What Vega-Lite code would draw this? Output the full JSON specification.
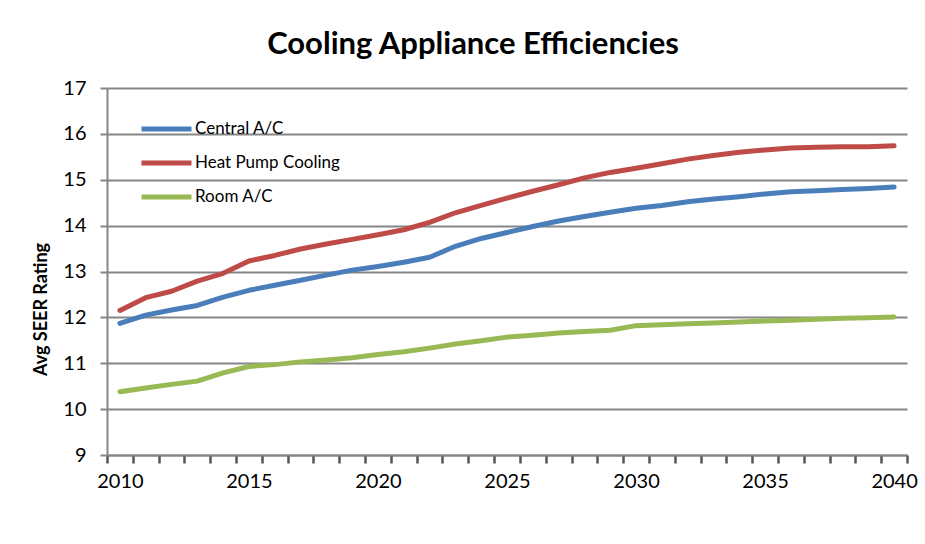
{
  "$schema": "https://vega.github.io/schema/vega-lite/v6.json",
  "autosize": {"type": "none"},
  "width": 800,
  "height": 367,
  "padding": {"left": 107, "top": 88, "right": 18, "bottom": 89},
  "background": "white",
  "title": {
    "text": "Cooling Appliance Efficiencies",
    "font": "Lato",
    "fontSize": 31,
    "fontWeight": "bold",
    "color": "#000000",
    "anchor": "middle",
    "dx": -34,
    "offset": 17
  },
  "data": {
    "values": [
      {"year": 2010, "series": "Central A/C", "seer": 11.87},
      {"year": 2011, "series": "Central A/C", "seer": 12.05},
      {"year": 2012, "series": "Central A/C", "seer": 12.16},
      {"year": 2013, "series": "Central A/C", "seer": 12.26},
      {"year": 2014, "series": "Central A/C", "seer": 12.44},
      {"year": 2015, "series": "Central A/C", "seer": 12.59},
      {"year": 2016, "series": "Central A/C", "seer": 12.70},
      {"year": 2017, "series": "Central A/C", "seer": 12.81},
      {"year": 2018, "series": "Central A/C", "seer": 12.92},
      {"year": 2019, "series": "Central A/C", "seer": 13.03},
      {"year": 2020, "series": "Central A/C", "seer": 13.11},
      {"year": 2021, "series": "Central A/C", "seer": 13.20},
      {"year": 2022, "series": "Central A/C", "seer": 13.31},
      {"year": 2023, "series": "Central A/C", "seer": 13.55},
      {"year": 2024, "series": "Central A/C", "seer": 13.72},
      {"year": 2025, "series": "Central A/C", "seer": 13.85},
      {"year": 2026, "series": "Central A/C", "seer": 13.98},
      {"year": 2027, "series": "Central A/C", "seer": 14.10},
      {"year": 2028, "series": "Central A/C", "seer": 14.20},
      {"year": 2029, "series": "Central A/C", "seer": 14.29},
      {"year": 2030, "series": "Central A/C", "seer": 14.38},
      {"year": 2031, "series": "Central A/C", "seer": 14.44},
      {"year": 2032, "series": "Central A/C", "seer": 14.52},
      {"year": 2033, "series": "Central A/C", "seer": 14.58},
      {"year": 2034, "series": "Central A/C", "seer": 14.63},
      {"year": 2035, "series": "Central A/C", "seer": 14.69},
      {"year": 2036, "series": "Central A/C", "seer": 14.74},
      {"year": 2037, "series": "Central A/C", "seer": 14.76},
      {"year": 2038, "series": "Central A/C", "seer": 14.79},
      {"year": 2039, "series": "Central A/C", "seer": 14.81},
      {"year": 2040, "series": "Central A/C", "seer": 14.84},
      {"year": 2010, "series": "Heat Pump Cooling", "seer": 12.15},
      {"year": 2011, "series": "Heat Pump Cooling", "seer": 12.43},
      {"year": 2012, "series": "Heat Pump Cooling", "seer": 12.57},
      {"year": 2013, "series": "Heat Pump Cooling", "seer": 12.79},
      {"year": 2014, "series": "Heat Pump Cooling", "seer": 12.96},
      {"year": 2015, "series": "Heat Pump Cooling", "seer": 13.23},
      {"year": 2016, "series": "Heat Pump Cooling", "seer": 13.35},
      {"year": 2017, "series": "Heat Pump Cooling", "seer": 13.49},
      {"year": 2018, "series": "Heat Pump Cooling", "seer": 13.60},
      {"year": 2019, "series": "Heat Pump Cooling", "seer": 13.70},
      {"year": 2020, "series": "Heat Pump Cooling", "seer": 13.80},
      {"year": 2021, "series": "Heat Pump Cooling", "seer": 13.91},
      {"year": 2022, "series": "Heat Pump Cooling", "seer": 14.07},
      {"year": 2023, "series": "Heat Pump Cooling", "seer": 14.28},
      {"year": 2024, "series": "Heat Pump Cooling", "seer": 14.44},
      {"year": 2025, "series": "Heat Pump Cooling", "seer": 14.60},
      {"year": 2026, "series": "Heat Pump Cooling", "seer": 14.75},
      {"year": 2027, "series": "Heat Pump Cooling", "seer": 14.89},
      {"year": 2028, "series": "Heat Pump Cooling", "seer": 15.04},
      {"year": 2029, "series": "Heat Pump Cooling", "seer": 15.16},
      {"year": 2030, "series": "Heat Pump Cooling", "seer": 15.25},
      {"year": 2031, "series": "Heat Pump Cooling", "seer": 15.35},
      {"year": 2032, "series": "Heat Pump Cooling", "seer": 15.45},
      {"year": 2033, "series": "Heat Pump Cooling", "seer": 15.53},
      {"year": 2034, "series": "Heat Pump Cooling", "seer": 15.60},
      {"year": 2035, "series": "Heat Pump Cooling", "seer": 15.65},
      {"year": 2036, "series": "Heat Pump Cooling", "seer": 15.69},
      {"year": 2037, "series": "Heat Pump Cooling", "seer": 15.71},
      {"year": 2038, "series": "Heat Pump Cooling", "seer": 15.72},
      {"year": 2039, "series": "Heat Pump Cooling", "seer": 15.72},
      {"year": 2040, "series": "Heat Pump Cooling", "seer": 15.74},
      {"year": 2010, "series": "Room A/C", "seer": 10.38},
      {"year": 2011, "series": "Room A/C", "seer": 10.46},
      {"year": 2012, "series": "Room A/C", "seer": 10.54},
      {"year": 2013, "series": "Room A/C", "seer": 10.61},
      {"year": 2014, "series": "Room A/C", "seer": 10.79},
      {"year": 2015, "series": "Room A/C", "seer": 10.93},
      {"year": 2016, "series": "Room A/C", "seer": 10.97},
      {"year": 2017, "series": "Room A/C", "seer": 11.03},
      {"year": 2018, "series": "Room A/C", "seer": 11.07},
      {"year": 2019, "series": "Room A/C", "seer": 11.12},
      {"year": 2020, "series": "Room A/C", "seer": 11.19},
      {"year": 2021, "series": "Room A/C", "seer": 11.25},
      {"year": 2022, "series": "Room A/C", "seer": 11.33},
      {"year": 2023, "series": "Room A/C", "seer": 11.42},
      {"year": 2024, "series": "Room A/C", "seer": 11.49},
      {"year": 2025, "series": "Room A/C", "seer": 11.57},
      {"year": 2026, "series": "Room A/C", "seer": 11.61},
      {"year": 2027, "series": "Room A/C", "seer": 11.66},
      {"year": 2028, "series": "Room A/C", "seer": 11.69},
      {"year": 2029, "series": "Room A/C", "seer": 11.72},
      {"year": 2030, "series": "Room A/C", "seer": 11.82},
      {"year": 2031, "series": "Room A/C", "seer": 11.84},
      {"year": 2032, "series": "Room A/C", "seer": 11.86},
      {"year": 2033, "series": "Room A/C", "seer": 11.88},
      {"year": 2034, "series": "Room A/C", "seer": 11.90},
      {"year": 2035, "series": "Room A/C", "seer": 11.92},
      {"year": 2036, "series": "Room A/C", "seer": 11.94},
      {"year": 2037, "series": "Room A/C", "seer": 11.96},
      {"year": 2038, "series": "Room A/C", "seer": 11.98},
      {"year": 2039, "series": "Room A/C", "seer": 11.99},
      {"year": 2040, "series": "Room A/C", "seer": 12.01}
    ]
  },
  "mark": {"type": "line", "strokeWidth": 5, "strokeCap": "round", "strokeJoin": "round"},
  "encoding": {
    "x": {
      "field": "year",
      "type": "quantitative",
      "scale": {"domain": [2009.5, 2040.5], "nice": false, "zero": false},
      "axis": {
        "title": null,
        "values": [2009.5, 2010.5, 2011.5, 2012.5, 2013.5, 2014.5, 2015.5, 2016.5, 2017.5, 2018.5, 2019.5, 2020.5, 2021.5, 2022.5, 2023.5, 2024.5, 2025.5, 2026.5, 2027.5, 2028.5, 2029.5, 2030.5, 2031.5, 2032.5, 2033.5, 2034.5, 2035.5, 2036.5, 2037.5, 2038.5, 2039.5, 2040.5],
        "labelExpr": "(datum.value + 0.5) % 5 === 0 ? format(datum.value + 0.5, 'd') : ''",
        "labelOffset": 12.9,
        "labelFlush": false,
        "labelOverlap": false,
        "labelBound": false,
        "ticks": true,
        "tickOpacity": 1,
        "labelAngle": 0,
        "grid": false,
        "domainColor": "#868686",
        "domainWidth": 2,
        "tickColor": "#555555",
        "tickWidth": 2.5,
        "tickSize": 8,
        "labelPadding": 8,
        "labelFont": "Lato",
        "labelFontSize": 20,
        "labelColor": "#000000"
      }
    },
    "y": {
      "field": "seer",
      "type": "quantitative",
      "scale": {"domain": [9, 17], "nice": false, "zero": false},
      "axis": {
        "title": "Avg SEER Rating",
        "values": [9, 10, 11, 12, 13, 14, 15, 16, 17],
        "grid": true,
        "gridColor": "#868686",
        "gridWidth": 2,
        "domainColor": "#868686",
        "domainWidth": 2,
        "tickColor": "#868686",
        "tickWidth": 2,
        "tickSize": 7,
        "labelPadding": 14,
        "labelFont": "Lato",
        "labelFontSize": 20,
        "labelColor": "#000000",
        "titleFont": "Lato",
        "titleFontSize": 18,
        "titleFontWeight": "bold",
        "titleColor": "#000000",
        "titlePadding": 12,
        "titleY": 221
      }
    },
    "color": {
      "field": "series",
      "type": "nominal",
      "scale": {
        "domain": ["Central A/C", "Heat Pump Cooling", "Room A/C"],
        "range": ["#4A7EBB", "#BE4B48", "#98B954"]
      },
      "legend": {
        "title": null,
        "orient": "none",
        "legendX": 32,
        "legendY": 24,
        "symbolType": "stroke",
        "symbolSize": 2500,
        "symbolStrokeWidth": 5,
        "rowPadding": 0,
        "clipHeight": 34,
        "labelFont": "Lato",
        "labelFontSize": 17,
        "labelColor": "#000000",
        "labelOffset": 1
      }
    }
  },
  "config": {
    "view": {"stroke": null},
    "axisX": {"ticks": true, "tickSize": 8, "tickWidth": 2.5, "tickColor": "#555555"}
  }
}
